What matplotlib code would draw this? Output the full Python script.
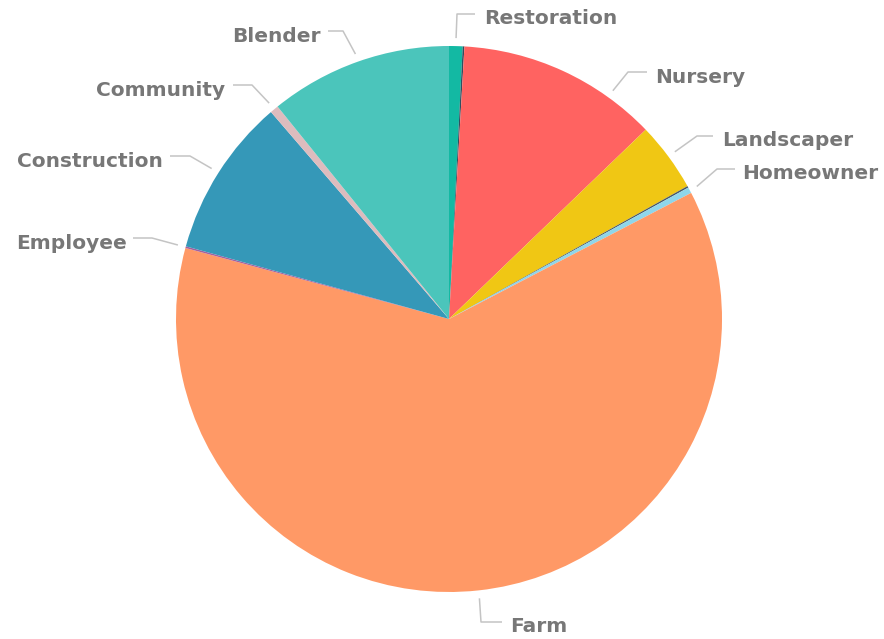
import matplotlib
matplotlib.use("Agg")
import matplotlib.pyplot as plt
import numpy as np

categories = ["Restoration", "", "Nursery", "Landscaper", "", "Homeowner", "Farm",
              "Employee", "Construction", "Community", "Blender"]
values = [0.8, 0.1, 11.9, 4.1, 0.1, 0.35, 61.8, 0.1, 9.4, 0.5, 10.8]
colors = ["#13b9a3", "#2f4f5f", "#ff6361", "#f0c714", "#4a5a66", "#8fd6ea", "#ff9966",
          "#a3609e", "#3598b8", "#ddbcbe", "#4bc5bb"]

W, H = 884, 639
fig = plt.figure(figsize=(W / 100, H / 100), dpi=100)
ax = fig.add_axes([0, 0, 1, 1])
ax.set_xlim(0, W)
ax.set_ylim(0, H)
ax.set_aspect("equal")
ax.axis("off")

cx, cy, R = 449, H - 319, 273
wedges, _ = ax.pie(values, colors=colors, startangle=90, counterclock=False,
                   center=(cx, cy), radius=R, frame=True,
                   wedgeprops=dict(linewidth=0))
ax.set_xlim(0, W)
ax.set_ylim(0, H)
ax.axis("off")

# label layout: (start angle shift in deg, elbow point, end point, text x, baseline y, ha)
layout = {
    "Restoration": (0, (457, 14), (475, 14), 484, 24, "left"),
    "Nursery": (-11, (628, 72), (647, 72), 655, 83, "left"),
    "Landscaper": (0, (697, 136), (713, 136), 722, 146, "left"),
    "Homeowner": (0, (717, 169), (735, 169), 742, 179, "left"),
    "Farm": (0, (481, 622), (502, 622), 510, 632, "left"),
    "Employee": (0, (152, 238), (133, 238), 127, 249, "right"),
    "Construction": (0, (190, 156), (170, 156), 163, 167, "right"),
    "Community": (0, (252, 85), (233, 85), 225, 96, "right"),
    "Blender": (0, (343, 31), (328, 31), 321, 42, "right"),
}

lc = "#c4c4c4"
tc = "#777777"
for w, name in zip(wedges, categories):
    if name not in layout:
        continue
    shift, (ex, ey), (fx, fy), tx, ty, ha = layout[name]
    mid = np.deg2rad((w.theta1 + w.theta2) / 2 + shift)
    sx = cx + (R + 8) * np.cos(mid)
    sy = cy + (R + 8) * np.sin(mid)
    ax.plot([sx, ex, fx], [sy, H - ey, H - fy], color=lc, lw=1.1,
            solid_capstyle="butt", zorder=1)
    ax.text(tx, H - ty, name, ha=ha, va="baseline", fontsize=14.5,
            fontweight="bold", color=tc, family="DejaVu Sans")

fig.savefig("out.png", dpi=100)
